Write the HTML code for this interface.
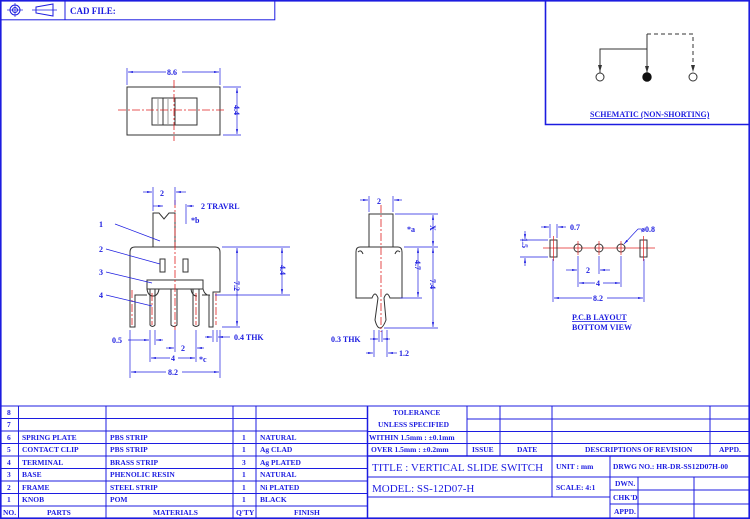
<!DOCTYPE html>
<html><head><style>
html,body{margin:0;padding:0;background:#fff}
svg{display:block}
text{font-family:"Liberation Serif",serif;font-weight:bold;fill:#1c1ce0;font-size:8px}
.t text{font-size:7.5px}
.b{stroke:#1c1ce0;fill:none;stroke-width:1}
.bt{stroke:#1c1ce0;fill:none;stroke-width:1.6}
.k{stroke:#333;fill:none;stroke-width:1}
.r{stroke:#e02020;fill:none;stroke-width:0.8;stroke-dasharray:8 2 2 2}
.d{stroke:#1c1ce0;fill:none;stroke-width:0.7}
</style></head><body>
<svg width="750" height="519" viewBox="0 0 750 519" xmlns="http://www.w3.org/2000/svg">
<defs>
<marker id="a" markerWidth="8" markerHeight="6" refX="7" refY="3" orient="auto-start-reverse"><path d="M0,1.5 L7,3 L0,4.5z" fill="#1c1ce0"/></marker>
<marker id="ak" markerWidth="8" markerHeight="6" refX="7" refY="3" orient="auto"><path d="M0,1 L7,3 L0,5z" fill="#333"/></marker>
</defs>
<rect x="0.8" y="0.8" width="748.4" height="517.4" class="bt"/>
<!-- header -->
<rect x="0.8" y="0.8" width="274" height="19" class="b"/>
<line x1="65" y1="1" x2="65" y2="20" class="b"/>
<circle cx="15" cy="10" r="5" class="b"/><circle cx="15" cy="10" r="2.5" class="b"/><line x1="7" y1="10" x2="23" y2="10" class="d"/><line x1="15" y1="3" x2="15" y2="17" class="d"/>
<path d="M36,7 L53,4 L53,16 L36,13z" class="b"/><line x1="32" y1="10" x2="57" y2="10" class="d"/>
<text x="70" y="14" style="font-size:9px">CAD FILE:</text>
<!-- schematic -->
<path d="M545.5,0 V124.5 H750" class="bt"/>
<path d="M600,73 V49 H647 M647,34 V73" class="k" marker-end="url(#ak)"/>
<line x1="600" y1="49" x2="600" y2="72" class="k" marker-end="url(#ak)"/>
<path d="M647,34 H693 V72" class="k" stroke-dasharray="4 3" marker-end="url(#ak)"/>
<circle cx="600" cy="77" r="4" fill="#fff" stroke="#333"/>
<circle cx="647" cy="77" r="4.2" fill="#111" stroke="#111"/>
<circle cx="693" cy="77" r="4" fill="#fff" stroke="#333"/>
<text x="590" y="117" text-decoration="underline">SCHEMATIC (NON-SHORTING)</text>
<!-- top view -->
<rect x="127" y="87" width="93" height="48" class="k"/>
<rect x="152" y="98" width="45" height="27" class="k"/>
<line x1="163" y1="98" x2="163" y2="125" class="k"/>
<line x1="158" y1="98" x2="158" y2="125" stroke="#999"/><line x1="168" y1="98" x2="168" y2="125" stroke="#999"/>
<line x1="175" y1="98" x2="175" y2="125" class="k"/>
<line x1="174" y1="80" x2="174" y2="141" class="r"/>
<line x1="118" y1="110" x2="226" y2="110" class="r"/>
<line x1="127" y1="68" x2="127" y2="85" class="d"/><line x1="220" y1="68" x2="220" y2="85" class="d"/>
<line x1="128" y1="72" x2="219" y2="72" class="d" marker-start="url(#a)" marker-end="url(#a)"/>
<rect x="166" y="67" width="16" height="9" fill="#fff"/><text x="167" y="75">8.6</text>
<line x1="223" y1="87" x2="241" y2="87" class="d"/><line x1="223" y1="135" x2="241" y2="135" class="d"/>
<line x1="237" y1="88" x2="237" y2="134" class="d" marker-start="url(#a)" marker-end="url(#a)"/>
<text transform="translate(234,111) rotate(90)" x="-6" y="0">4.4</text>
<!-- front view -->
<path d="M153,247 V213 H159 L164,219 L169,213 H175 V247" class="k"/>
<path d="M135,247 H215 Q220,247 220,252 V292 H213 V327 H209 V295 H202" class="k"/>
<path d="M135,247 Q130,247 130,252 V327 H135 V295 H147" class="k"/>
<rect x="147" y="280" width="56" height="9" class="k"/>
<path d="M147,289 Q148,296 153,296 Q158,296 159,289 M191,289 Q192,296 197,296 M203,289 Q205,296 210,295" class="k"/>
<rect x="160" y="259" width="5" height="13" class="k"/>
<rect x="183" y="259" width="5" height="13" class="k"/>
<path d="M150,289 V325 Q152.5,328 155,325 V289 M171,289 V325 Q174,328 177,325 V289 M193,289 V325 Q196,328 199,325 V289" class="k"/>
<line x1="175" y1="200" x2="175" y2="330" class="r"/>
<line x1="132" y1="290" x2="132" y2="325" class="r"/><line x1="152" y1="293" x2="152" y2="325" class="r"/><line x1="196" y1="293" x2="196" y2="325" class="r"/><line x1="216" y1="293" x2="216" y2="325" class="r"/>
<line x1="153" y1="187" x2="153" y2="211" class="d"/><line x1="175" y1="187" x2="175" y2="205" class="d"/>
<line x1="143" y1="192" x2="152" y2="192" class="d" marker-end="url(#a)"/><line x1="186" y1="192" x2="176" y2="192" class="d" marker-end="url(#a)"/>
<text x="160" y="196">2</text>
<line x1="153" y1="206" x2="163" y2="206" class="d" marker-end="url(#a)"/>
<line x1="186" y1="204" x2="186" y2="224" class="d"/>
<line x1="194" y1="206" x2="187" y2="206" class="d" marker-end="url(#a)"/>
<text x="201" y="209">2 TRAVRL</text><text x="191" y="223">*b</text>
<line x1="115" y1="224" x2="160" y2="241" class="d"/><text x="99" y="227">1</text>
<line x1="106" y1="249" x2="160" y2="264" class="d"/><text x="99" y="252">2</text>
<line x1="106" y1="272" x2="152" y2="283" class="d"/><text x="99" y="275">3</text>
<line x1="106" y1="295" x2="152" y2="306" class="d"/><text x="99" y="298">4</text>
<line x1="222" y1="247" x2="290" y2="247" class="d"/><line x1="215" y1="295" x2="290" y2="295" class="d"/><line x1="222" y1="327" x2="240" y2="327" class="d"/>
<line x1="282" y1="248" x2="282" y2="294" class="d" marker-start="url(#a)" marker-end="url(#a)"/>
<text transform="translate(280,271) rotate(90)" x="-6" y="0">4.4</text>
<line x1="237" y1="248" x2="237" y2="326" class="d" marker-start="url(#a)" marker-end="url(#a)"/>
<text transform="translate(234,287) rotate(90)" x="-6" y="0">7.2</text>
<line x1="130" y1="330" x2="130" y2="378" class="d"/><line x1="220" y1="330" x2="220" y2="378" class="d"/>
<line x1="150" y1="330" x2="150" y2="362" class="d"/><line x1="155" y1="330" x2="155" y2="345" class="d"/>
<line x1="175" y1="330" x2="175" y2="352" class="d"/><line x1="196" y1="330" x2="196" y2="362" class="d"/>
<line x1="213" y1="330" x2="213" y2="342" class="d"/><line x1="217" y1="330" x2="217" y2="342" class="d"/>
<line x1="128" y1="340" x2="149" y2="340" class="d" marker-end="url(#a)"/><line x1="163" y1="340" x2="156" y2="340" class="d" marker-end="url(#a)"/>
<text x="112" y="343">0.5</text>
<line x1="205" y1="337" x2="212" y2="337" class="d" marker-end="url(#a)"/><line x1="230" y1="337" x2="218" y2="337" class="d" marker-end="url(#a)"/>
<text x="234" y="340">0.4 THK</text>
<line x1="166" y1="348" x2="174" y2="348" class="d" marker-end="url(#a)"/><line x1="204" y1="348" x2="197" y2="348" class="d" marker-end="url(#a)"/>
<text x="181" y="351">2</text>
<line x1="151" y1="358" x2="195" y2="358" class="d" marker-start="url(#a)" marker-end="url(#a)"/>
<rect x="170" y="353" width="8" height="9" fill="#fff"/><text x="171" y="361">4</text><text x="199" y="362">*c</text>
<line x1="131" y1="372" x2="219" y2="372" class="d" marker-start="url(#a)" marker-end="url(#a)"/>
<rect x="166" y="367" width="16" height="9" fill="#fff"/><text x="168" y="375">8.2</text>
<!-- side view -->
<rect x="369" y="214" width="24" height="33" class="k"/>
<path d="M360,247 H398 Q402,247 402,252 V298 H390 Q387,290 384,298 L386,320 Q383,328 380,328 Q377,328 375,320 L378,298 Q375,290 372,298 H356 V252 Q356,247 360,247z" class="k"/>
<path d="M358,252 Q361,249 363,254 M400,252 Q397,249 395,254" class="k"/>
<line x1="381" y1="205" x2="381" y2="332" class="r"/>
<line x1="369" y1="196" x2="369" y2="212" class="d"/><line x1="393" y1="196" x2="393" y2="212" class="d"/>
<line x1="360" y1="200" x2="368" y2="200" class="d" marker-end="url(#a)"/><line x1="402" y1="200" x2="394" y2="200" class="d" marker-end="url(#a)"/>
<text x="377" y="204">2</text>
<text x="407" y="232">*a</text>
<line x1="395" y1="214" x2="438" y2="214" class="d"/><line x1="404" y1="247" x2="438" y2="247" class="d"/><line x1="400" y1="298" x2="422" y2="298" class="d"/><line x1="384" y1="328" x2="438" y2="328" class="d"/>
<line x1="433" y1="215" x2="433" y2="246" class="d" marker-start="url(#a)" marker-end="url(#a)"/>
<text transform="translate(430,228) rotate(90)" x="-3" y="0">X</text>
<line x1="418" y1="248" x2="418" y2="297" class="d" marker-start="url(#a)" marker-end="url(#a)"/>
<text transform="translate(415,266) rotate(90)" x="-6" y="0">4.7</text>
<line x1="433" y1="248" x2="433" y2="327" class="d" marker-start="url(#a)" marker-end="url(#a)"/>
<text transform="translate(430,285) rotate(90)" x="-6" y="0">7.4</text>
<line x1="374" y1="330" x2="374" y2="357" class="d"/><line x1="387" y1="330" x2="387" y2="357" class="d"/><line x1="379" y1="330" x2="379" y2="342" class="d"/><line x1="382" y1="330" x2="382" y2="342" class="d"/>
<line x1="370" y1="339" x2="378" y2="339" class="d" marker-end="url(#a)"/><line x1="390" y1="339" x2="383" y2="339" class="d" marker-end="url(#a)"/>
<text x="331" y="342">0.3 THK</text>
<line x1="366" y1="353" x2="373" y2="353" class="d" marker-end="url(#a)"/><line x1="397" y1="353" x2="388" y2="353" class="d" marker-end="url(#a)"/>
<text x="399" y="356">1.2</text>
<!-- PCB -->
<line x1="543" y1="248" x2="655" y2="248" stroke="#e02020" stroke-width="0.8"/>
<rect x="550" y="240" width="7" height="17" class="k"/><rect x="640" y="240" width="7" height="17" class="k"/>
<circle cx="578" cy="248" r="4" class="k"/><circle cx="599" cy="248" r="4" class="k"/><circle cx="621" cy="248" r="4" class="k"/>
<g stroke="#e02020" stroke-width="0.7"><line x1="553.5" y1="236" x2="553.5" y2="261"/><line x1="643.5" y1="236" x2="643.5" y2="261"/><line x1="578" y1="241" x2="578" y2="255"/><line x1="599" y1="241" x2="599" y2="255"/><line x1="621" y1="241" x2="621" y2="255"/></g>
<line x1="550" y1="224" x2="550" y2="238" class="d"/><line x1="557" y1="224" x2="557" y2="238" class="d"/>
<line x1="541" y1="227" x2="549" y2="227" class="d" marker-end="url(#a)"/><line x1="566" y1="227" x2="558" y2="227" class="d" marker-end="url(#a)"/>
<text x="570" y="230">0.7</text>
<line x1="520" y1="240" x2="548" y2="240" class="d"/><line x1="520" y1="257" x2="548" y2="257" class="d"/>
<line x1="525" y1="231" x2="525" y2="239" class="d" marker-end="url(#a)"/><line x1="525" y1="266" x2="525" y2="258" class="d" marker-end="url(#a)"/>
<text transform="translate(522,244) rotate(90)" x="-6" y="0">1.5</text>
<line x1="638" y1="229" x2="624" y2="244" class="d" marker-end="url(#a)"/><line x1="638" y1="229" x2="641" y2="229" class="d"/>
<text x="641" y="232">ø0.8</text>
<line x1="578" y1="256" x2="578" y2="287" class="d"/><line x1="599" y1="256" x2="599" y2="274" class="d"/><line x1="621" y1="256" x2="621" y2="287" class="d"/>
<line x1="553" y1="259" x2="553" y2="302" class="d"/><line x1="644" y1="259" x2="644" y2="302" class="d"/>
<line x1="566" y1="270" x2="577" y2="270" class="d" marker-end="url(#a)"/><line x1="610" y1="270" x2="600" y2="270" class="d" marker-end="url(#a)"/>
<text x="586" y="273">2</text>
<line x1="579" y1="283" x2="620" y2="283" class="d" marker-start="url(#a)" marker-end="url(#a)"/>
<rect x="595" y="278" width="8" height="9" fill="#fff"/><text x="596" y="286">4</text>
<line x1="554" y1="298" x2="643" y2="298" class="d" marker-start="url(#a)" marker-end="url(#a)"/>
<rect x="592" y="293" width="15" height="9" fill="#fff"/><text x="593" y="301">8.2</text>
<text x="572" y="320" text-decoration="underline">P.C.B LAYOUT</text>
<text x="572" y="330">BOTTOM VIEW</text>
<!-- table -->
<g class="b">
<line x1="0" y1="406" x2="750" y2="406"/>
<line x1="0" y1="418.5" x2="367" y2="418.5"/><line x1="0" y1="431" x2="367" y2="431"/><line x1="0" y1="443.5" x2="367" y2="443.5"/><line x1="0" y1="456" x2="367" y2="456"/><line x1="0" y1="468.5" x2="367" y2="468.5"/><line x1="0" y1="481" x2="367" y2="481"/><line x1="0" y1="493.5" x2="367" y2="493.5"/><line x1="0" y1="506" x2="367" y2="506"/>
<line x1="18.5" y1="406" x2="18.5" y2="518"/><line x1="106" y1="406" x2="106" y2="518"/><line x1="233" y1="406" x2="233" y2="518"/><line x1="256" y1="406" x2="256" y2="518"/>
<line x1="367.5" y1="406" x2="367.5" y2="518" stroke-width="1.5"/>
<line x1="467" y1="406" x2="467" y2="456"/><line x1="500" y1="406" x2="500" y2="456"/><line x1="552" y1="406" x2="552" y2="497"/><line x1="710" y1="406" x2="710" y2="456"/>
<line x1="467" y1="419" x2="750" y2="419"/><line x1="367" y1="431.5" x2="750" y2="431.5"/><line x1="367" y1="443.5" x2="750" y2="443.5"/>
<line x1="367" y1="456" x2="750" y2="456" stroke-width="1.5"/>
<line x1="610" y1="456" x2="610" y2="518"/>
<line x1="367" y1="477" x2="750" y2="477"/><line x1="367" y1="497" x2="610" y2="497"/>
<line x1="610" y1="490" x2="750" y2="490"/><line x1="610" y1="504" x2="750" y2="504"/>
<line x1="638" y1="477" x2="638" y2="518"/><line x1="694" y1="477" x2="694" y2="518"/>
</g>
<g class="t">
<text x="7" y="415">8</text><text x="7" y="427">7</text>
<text x="7" y="440">6</text><text x="22" y="440">SPRING PLATE</text><text x="110" y="440">PBS STRIP</text><text x="242" y="440">1</text><text x="260" y="440">NATURAL</text>
<text x="7" y="452">5</text><text x="22" y="452">CONTACT CLIP</text><text x="110" y="452">PBS STRIP</text><text x="242" y="452">1</text><text x="260" y="452">Ag CLAD</text>
<text x="7" y="465">4</text><text x="22" y="465">TERMINAL</text><text x="110" y="465">BRASS STRIP</text><text x="242" y="465">3</text><text x="260" y="465">Ag PLATED</text>
<text x="7" y="477">3</text><text x="22" y="477">BASE</text><text x="110" y="477">PHENOLIC RESIN</text><text x="242" y="477">1</text><text x="260" y="477">NATURAL</text>
<text x="7" y="490">2</text><text x="22" y="490">FRAME</text><text x="110" y="490">STEEL STRIP</text><text x="242" y="490">1</text><text x="260" y="490">Ni PLATED</text>
<text x="7" y="502">1</text><text x="22" y="502">KNOB</text><text x="110" y="502">POM</text><text x="242" y="502">1</text><text x="260" y="502">BLACK</text>
<text x="3" y="515">NO.</text><text x="47" y="515">PARTS</text><text x="153" y="515">MATERIALS</text><text x="236" y="515">Q'TY</text><text x="294" y="515">FINISH</text>
<text x="393" y="415">TOLERANCE</text><text x="378" y="427">UNLESS  SPECIFIED</text>
<text x="369" y="440">WITHIN 1.5mm : ±0.1mm</text><text x="371" y="452">OVER 1.5mm : ±0.2mm</text>
<text x="472" y="452">ISSUE</text><text x="517" y="452">DATE</text><text x="585" y="452">DESCRIPTIONS OF REVISION</text><text x="719" y="452">APPD.</text>
<text x="556" y="469">UNIT :  mm</text><text x="613" y="469">DRWG NO.:  HR-DR-SS12D07H-00</text>
<text x="556" y="490">SCALE:  4:1</text>
<text x="615" y="486">DWN.</text><text x="613" y="500">CHK'D</text><text x="614" y="514">APPD.</text>
</g>
<text x="372" y="471" style="font-size:11px;font-weight:normal">TITLE :  VERTICAL SLIDE SWITCH</text>
<text x="372" y="492" style="font-size:11px;font-weight:normal">MODEL:  SS-12D07-H</text>
</svg>
</body></html>
